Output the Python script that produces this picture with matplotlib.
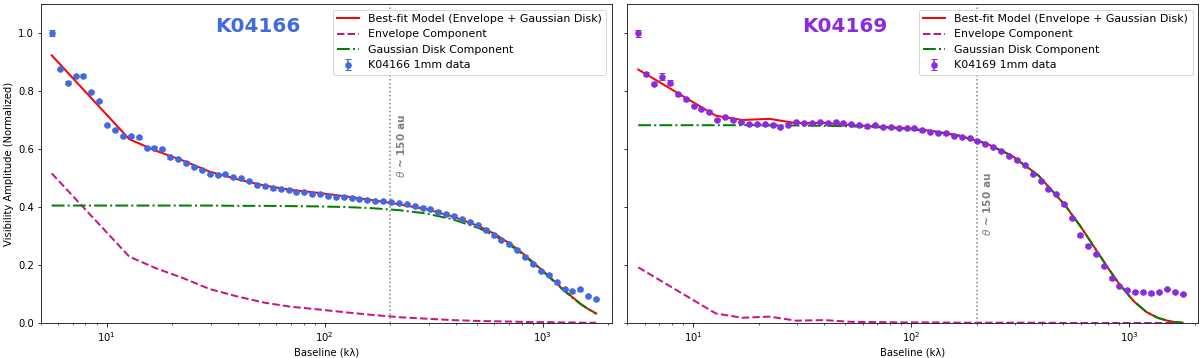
import matplotlib; matplotlib.use("Agg")
import matplotlib.pyplot as plt

# binned baselines (klambda)
baseline = [5.61, 6.10, 6.63, 7.20, 7.83, 8.51, 9.25, 10.05, 10.92, 11.88,
            12.91, 14.03, 15.25, 16.57, 18.01, 19.58, 21.28, 23.13, 25.14, 27.32,
            29.69, 32.27, 35.07, 38.12, 41.43, 45.03, 48.94, 53.19, 57.81, 62.83,
            68.29, 74.22, 80.67, 87.67, 95.29, 103.6, 112.6, 122.3, 132.9, 144.5,
            157.0, 170.7, 185.5, 201.6, 219.1, 238.2, 258.9, 281.3, 305.8, 332.4,
            361.2, 392.6, 426.7, 463.8, 504.1, 547.9, 595.5, 647.2, 703.4, 764.5,
            830.9, 903.1, 981.6, 1067, 1160, 1261, 1370, 1489, 1618, 1759]

k04166_amp = [0.999, 0.875, 0.829, 0.852, 0.853, 0.796, 0.765, 0.683, 0.666, 0.645,
              0.646, 0.640, 0.603, 0.605, 0.600, 0.571, 0.566, 0.553, 0.537, 0.528,
              0.514, 0.510, 0.514, 0.503, 0.501, 0.490, 0.477, 0.471, 0.464, 0.463,
              0.460, 0.451, 0.452, 0.446, 0.446, 0.438, 0.436, 0.436, 0.432, 0.427,
              0.423, 0.421, 0.420, 0.417, 0.413, 0.409, 0.403, 0.398, 0.392, 0.384,
              0.376, 0.368, 0.359, 0.348, 0.339, 0.321, 0.302, 0.286, 0.271, 0.253,
              0.229, 0.203, 0.179, 0.167, 0.140, 0.117, 0.109, 0.116, 0.093, 0.083]
k04166_err = [0.010] + [0.004] * 69

k04169_amp = [0.999, 0.859, 0.825, 0.849, 0.829, 0.788, 0.771, 0.748, 0.738, 0.729,
              0.700, 0.710, 0.699, 0.694, 0.686, 0.687, 0.685, 0.684, 0.676, 0.684,
              0.694, 0.689, 0.689, 0.693, 0.689, 0.693, 0.690, 0.687, 0.682, 0.678,
              0.682, 0.675, 0.676, 0.673, 0.672, 0.671, 0.664, 0.660, 0.656, 0.654,
              0.644, 0.641, 0.637, 0.628, 0.617, 0.608, 0.593, 0.576, 0.561, 0.544,
              0.514, 0.491, 0.461, 0.444, 0.409, 0.363, 0.302, 0.267, 0.237, 0.197,
              0.154, 0.128, 0.114, 0.106, 0.106, 0.102, 0.108, 0.118, 0.108, 0.099]
k04169_err = [0.012, 0.008, 0.006, 0.012, 0.009] + [0.004] * 65

# model grid and components
model_uv = [5.6, 12.7, 16.8, 22.4, 29.7, 40, 53, 70, 93, 124, 165, 220, 290, 385,
            510, 600, 700, 800, 900, 1050, 1200, 1350, 1500, 1630, 1760]

k04166_total = [0.923, 0.634, 0.594, 0.560, 0.522, 0.495, 0.474, 0.459, 0.449, 0.437,
                0.424, 0.409, 0.393, 0.368, 0.334, 0.308, 0.276, 0.244, 0.211, 0.167,
                0.126, 0.093, 0.065, 0.047, 0.033]
k04166_env = [0.516, 0.229, 0.189, 0.155, 0.117, 0.091, 0.070, 0.056, 0.047, 0.037,
              0.028, 0.020, 0.015, 0.010, 0.007, 0.006, 0.005, 0.004, 0.003, 0.003,
              0.002, 0.002, 0.001, 0.001, 0.001]
k04166_disk = [0.405, 0.405, 0.405, 0.405, 0.405, 0.404, 0.404, 0.403, 0.402, 0.400,
               0.396, 0.389, 0.378, 0.358, 0.327, 0.302, 0.271, 0.240, 0.208, 0.164,
               0.124, 0.091, 0.064, 0.046, 0.032]

k04169_total = [0.874, 0.715, 0.700, 0.704, 0.689, 0.690, 0.682, 0.678, 0.672, 0.663,
                0.647, 0.620, 0.577, 0.508, 0.405, 0.332, 0.256, 0.190, 0.135, 0.075,
                0.038, 0.018, 0.008, 0.003, 0.001]
k04169_env = [0.192, 0.033, 0.018, 0.022, 0.008, 0.010, 0.004, 0.003, 0.002, 0.002,
              0.001, 0.001, 0.001, 0.001, 0.000, 0.000, 0.000, 0.000, 0.000, 0.000,
              0.000, 0.000, 0.000, 0.000, 0.000]
k04169_disk = [0.682, 0.682, 0.682, 0.682, 0.681, 0.680, 0.678, 0.675, 0.670, 0.661,
               0.646, 0.619, 0.576, 0.507, 0.405, 0.332, 0.256, 0.190, 0.135, 0.075,
               0.038, 0.018, 0.008, 0.003, 0.001]

panels = [("K04166", k04166_amp, k04166_err, k04166_total, k04166_env, k04166_disk, "royalblue", 0.50),
          ("K04169", k04169_amp, k04169_err, k04169_total, k04169_env, k04169_disk, "blueviolet", 0.30)]

fig, axes = plt.subplots(1, 2, figsize=(1200/72, 358/72), dpi=72, sharey=True)
fig.subplots_adjust(left=41/1200, right=1198/1200, bottom=1-323/358, top=1-4/358, wspace=0.028)

for ax, (name, amp, err, tot, env, disk, col, ty) in zip(axes, panels):
    ax.plot(model_uv, tot, "-", color="red", lw=2, label="Best-fit Model (Envelope + Gaussian Disk)")
    ax.plot(model_uv, env, "--", color="mediumvioletred", lw=2, label="Envelope Component")
    ax.plot(model_uv, disk, "-.", color="green", lw=2, label="Gaussian Disk Component")
    ax.errorbar(baseline, amp, yerr=err, fmt="o", color=col, ms=5.5, capsize=3, label=f"{name} 1mm data")
    ax.axvline(200, ls=":", color="gray", lw=1.5)
    ax.text(210, ty, r"$\theta$ ~ 150 au", rotation=90, color="gray", fontweight="bold",
            ha="left", va="bottom", fontsize=10.5)
    ax.text(0.38, 0.93, name, transform=ax.transAxes, color=col, fontsize=20,
            fontweight="bold", ha="center", va="center")
    ax.set_xscale("log"); ax.set_xlim(5, 2070); ax.set_ylim(0, 1.1)
    ax.set_xlabel("Baseline (kλ)")
    ax.legend(loc="upper right", fontsize=11)

axes[0].set_ylabel("Visibility Amplitude (Normalized)")
fig.savefig("out.png", dpi=72)
